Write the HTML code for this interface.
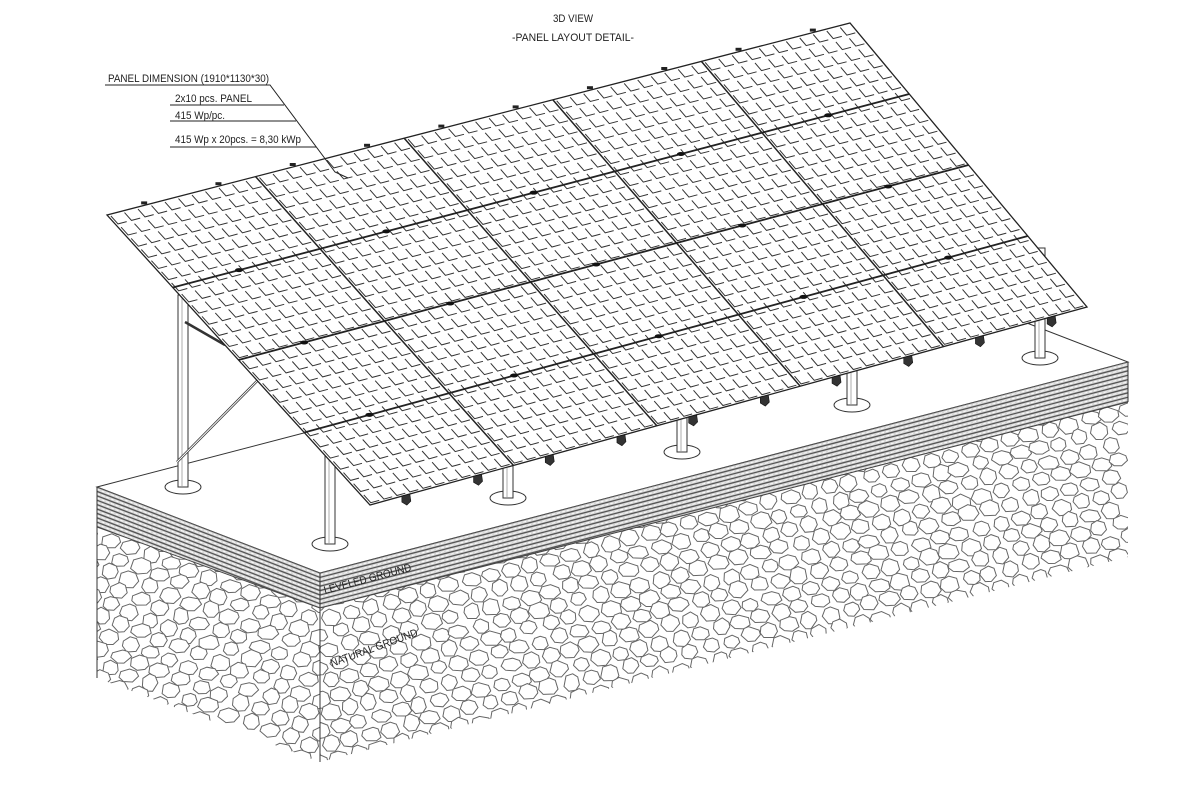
<!DOCTYPE html>
<html><head><meta charset="utf-8">
<style>
html,body{margin:0;padding:0;background:#fff;overflow:hidden;width:1200px;height:787px;}
svg{display:block;overflow:hidden;}
text{font-family:"Liberation Sans",sans-serif;fill:#222;}
</style></head>
<body>
<svg id="s" width="1200" height="787" viewBox="0 0 1200 787" xmlns="http://www.w3.org/2000/svg">
<defs>
<clipPath id="cL"><polygon points="97,527 320,608 320,762 97,678"/></clipPath>
<clipPath id="cF"><polygon points="320,608 1128,402 1128,557 320,762"/></clipPath>
<clipPath id="cBL"><polygon points="97,487 320,573 320,608 97,527"/></clipPath>
<clipPath id="cBF"><polygon points="320,573 1128,362 1128,402 320,608"/></clipPath>
</defs>
<text x="573" y="22" font-size="11" text-anchor="middle" textLength="40" lengthAdjust="spacingAndGlyphs">3D VIEW</text>
<text x="573" y="41" font-size="11" text-anchor="middle" textLength="122" lengthAdjust="spacingAndGlyphs">-PANEL LAYOUT DETAIL-</text>
<g id="block"></g>
<g id="posts"></g>
<g id="panels"></g>
<g id="labels">
<polyline points="105,85 270,85 335,172 348,178" fill="none" stroke="#222" stroke-width="1"/>
<line x1="170" y1="105" x2="284" y2="105" stroke="#222"/>
<line x1="170" y1="121" x2="296" y2="121" stroke="#222"/>
<line x1="170" y1="147" x2="316" y2="147" stroke="#222"/>
<text x="108" y="82" font-size="11" textLength="161" lengthAdjust="spacingAndGlyphs">PANEL DIMENSION (1910*1130*30)</text>
<text x="175" y="102" font-size="11" textLength="77" lengthAdjust="spacingAndGlyphs">2x10 pcs. PANEL</text>
<text x="175" y="119" font-size="11" textLength="50" lengthAdjust="spacingAndGlyphs">415 Wp/pc.</text>
<text x="175" y="143" font-size="11" textLength="126" lengthAdjust="spacingAndGlyphs">415 Wp x 20pcs. = 8,30 kWp</text>
<text x="0" y="0" font-size="11" transform="translate(325,594) rotate(-15)" textLength="90" lengthAdjust="spacingAndGlyphs">LEVELED GROUND</text>
<text x="0" y="0" font-size="11" transform="translate(332,667) rotate(-20)" textLength="92" lengthAdjust="spacingAndGlyphs">NATURAL GROUND</text>
</g>
</svg>
<script>
var NS="http://www.w3.org/2000/svg";
function el(p,t,a){var e=document.createElementNS(NS,t);for(var k in a)e.setAttribute(k,a[k]);p.appendChild(e);return e;}
var B=document.getElementById("block"),P=document.getElementById("posts"),G=document.getElementById("panels");
el(B,"polygon",{points:"97,487 320,573 1128,362 905,276",fill:"#fff",stroke:"#333","stroke-width":"1"});
function band(clip,x1,y1,x2,y2){
  var g=el(B,"g",{"clip-path":"url(#"+clip+")"});
  el(g,"polygon",{points:x1+","+y1+" "+x2+","+y2+" "+x2+","+(y2+42)+" "+x1+","+(y1+42),fill:"#d8d8d8"});
  for(var k=0;k<=40;k+=4.4){
    el(g,"line",{x1:x1,y1:y1+k,x2:x2,y2:y2+k,stroke:"#555","stroke-width":"1.3"});
    el(g,"line",{x1:x1,y1:y1+k+2.2,x2:x2,y2:y2+k+2.2,stroke:"#fff","stroke-width":"0.8","stroke-dasharray":"3 2"});
  }
}
band("cBL",97,487,320,573);
band("cBF",320,573,1128,362);
function stones(clip,x0,x1,y0,y1,sl,ymax){
  var g=el(B,"g",{"clip-path":"url(#"+clip+")",fill:"#fff",stroke:"#666","stroke-width":"1"});
  var seed=7;function r(){seed=(seed*9301+49297)%233280;return seed/233280;}
  var row=0;
  for(var y=y0;y<y1;y+=16,row++){
    for(var x=x0+(row%2?10:0);x<x1;x+=20){
      var cx=x+(r()-0.5)*4, cy=y+(x-x0)*sl+(r()-0.5)*3, rx=8+r()*3, ry=6.5+r()*2.5;
      if(cy<0||cy+ry>ymax(cx)+10||cy>776||cx>1130)continue;
      var pts=[];for(var a=0;a<7;a++){var t=a/7*Math.PI*2+r()*0.4;pts.push((cx+Math.cos(t)*rx).toFixed(1)+","+Math.min(786,cy+Math.sin(t)*ry).toFixed(1));}
      el(g,"polygon",{points:pts.join(" ")});
    }
  }
}
stones("cL",90,330,500,780,0.386,function(x){return 678+(x-97)*0.377;});
stones("cF",310,1140,590,790,-0.26,function(x){return 762-(x-320)*0.253;});
el(B,"line",{x1:97,y1:487,x2:97,y2:678,stroke:"#333"});
el(B,"line",{x1:320,y1:573,x2:320,y2:762,stroke:"#333"});
el(B,"line",{x1:1128,y1:362,x2:1128,y2:402,stroke:"#333"});
el(B,"line",{x1:97,y1:527,x2:320,y2:608,stroke:"#444"});
el(B,"line",{x1:320,y1:608,x2:1128,y2:402,stroke:"#444"});
function post(x,yb,yt){
  el(P,"ellipse",{cx:x,cy:yb,rx:18,ry:7,fill:"#fff",stroke:"#333"});
  el(P,"rect",{x:x-5,y:yt,width:10,height:yb-yt,fill:"#fff",stroke:"#333"});
  el(P,"line",{x1:x-1,y1:yt,x2:x-1,y2:yb,stroke:"#999","stroke-width":"0.8"});
}
post(183,487,295);
el(P,"line",{x1:177,y1:462,x2:258,y2:380,stroke:"#333","stroke-width":"2.5"});
el(P,"line",{x1:177,y1:462,x2:258,y2:380,stroke:"#fff","stroke-width":"1"});
el(P,"line",{x1:185,y1:322,x2:225,y2:345,stroke:"#333","stroke-width":"2.5"});
[[330,544],[508,498],[682,452],[852,405],[1040,358]].forEach(function(p){post(p[0],p[1],p[1]-110);});
var TL=[107,215],TR=[850,23],BR=[1087,307],BL=[370,505];
function pt(u,v){
  var ax=TL[0]+(TR[0]-TL[0])*u, ay=TL[1]+(TR[1]-TL[1])*u;
  var bx=BL[0]+(BR[0]-BL[0])*u, by=BL[1]+(BR[1]-BL[1])*u;
  return [ax+(bx-ax)*v, ay+(by-ay)*v];
}
el(G,"polygon",{points:[TL,TR,BR,BL].map(function(p){return p.join(",")}).join(" "),fill:"#fff",stroke:"#222","stroke-width":"1.3"});
var NC=55,NR=26,d="";
for(var i=0;i<NC;i++)for(var j=0;j<NR;j++){
  var u0=(i+0.18)/NC,u1=(i+0.82)/NC,v0=(j+0.15)/NR,v1=(j+0.85)/NR;
  var a=pt(u0,v0),b=pt(u0,v1),c=pt(u1,v1);
  d+="M"+a[0].toFixed(1)+" "+a[1].toFixed(1)+"L"+b[0].toFixed(1)+" "+b[1].toFixed(1)+"L"+c[0].toFixed(1)+" "+c[1].toFixed(1);
}
el(G,"path",{d:d,fill:"none",stroke:"#333","stroke-width":"1"});
for(var k=1;k<5;k++){var a=pt(k/5,0),b=pt(k/5,1);el(G,"line",{x1:a[0],y1:a[1],x2:b[0],y2:b[1],stroke:"#222","stroke-width":"1.5"});}
for(var k=1;k<4;k++){var a=pt(0,k/4),b=pt(1,k/4);el(G,"line",{x1:a[0],y1:a[1],x2:b[0],y2:b[1],stroke:"#222","stroke-width":"1.8"});
  for(var m=0;m<5;m++){var q=pt((m+0.45)/5,k/4);el(G,"ellipse",{cx:q[0],cy:q[1],rx:4,ry:2,fill:"#111"});}}
for(var m=0;m<10;m++){var q=pt((m+0.5)/10,0);el(G,"rect",{x:q[0]-3,y:q[1]-4,width:6,height:3,fill:"#222"});}
for(var m=0;m<10;m++){var q=pt((m+0.5)/10,1);
  el(G,"path",{d:"M"+(q[0]-4)+" "+(q[1]+1)+"l8 -2 l1 7 l-4 4 l-5 -3z",fill:"#333",stroke:"#111","stroke-width":"0.6"});}
</script>
</body></html>
